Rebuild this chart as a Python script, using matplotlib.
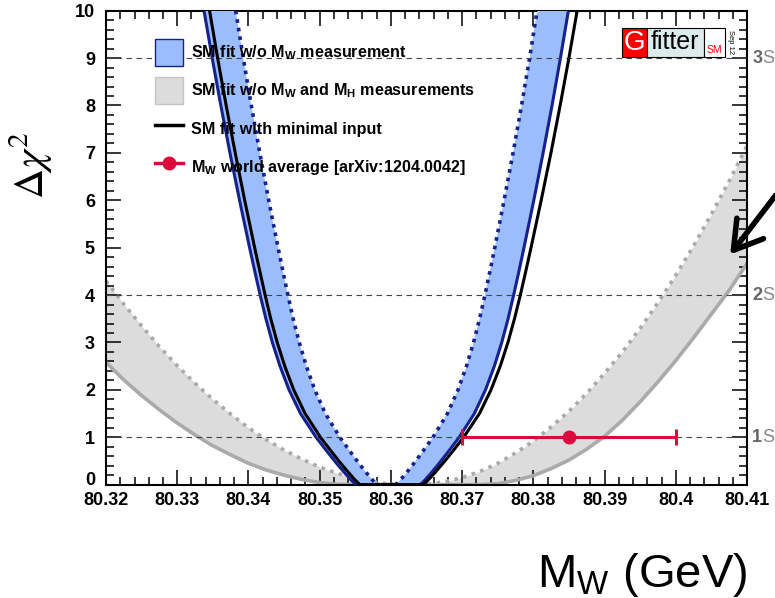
import numpy as np
import matplotlib.pyplot as plt
import matplotlib.transforms as mtransforms
from matplotlib.lines import Line2D
from matplotlib.patches import Patch, Rectangle

plt.rcParams['font.family'] = ['Liberation Sans', 'DejaVu Sans']
plt.rcParams['mathtext.fontset'] = 'custom'
plt.rcParams['mathtext.rm'] = 'Liberation Sans'
plt.rcParams['mathtext.bf'] = 'Liberation Sans:bold'
plt.rcParams['mathtext.it'] = 'Liberation Sans:italic'

# delta chi2 levels at which the MW profiles are tabulated (left / right branch)
levels = [10, 9, 8, 7, 6, 5, 4.5, 4, 3.5, 3, 2.5, 2, 1.5, 1, 0.7, 0.45, 0.25, 0.1, 0.03, 0]

# SM fit w/o MW: outer (solid) and inner (dotted) edge of the band
nomw_outer_left = [80.33376, 80.33491, 80.33612, 80.33740, 80.33875, 80.34016, 80.34089,
                   80.34164, 80.34245, 80.34336, 80.34443, 80.34570, 80.34731, 80.34949,
                   80.35104, 80.35237, 80.35350, 80.35440, 80.35487, 80.35511]
nomw_outer_right = [80.38492, 80.38380, 80.38262, 80.38137, 80.38006, 80.37868, 80.37797,
                    80.37723, 80.37645, 80.37556, 80.37452, 80.37328, 80.37171, 80.36958,
                    80.36807, 80.36677, 80.36567, 80.36479, 80.36433, 80.36410]
nomw_inner_left = [80.33821, 80.33927, 80.34040, 80.34159, 80.34284, 80.34416, 80.34484,
                   80.34554, 80.34628, 80.34713, 80.34813, 80.34931, 80.35080, 80.35284,
                   80.35427, 80.35551, 80.35656, 80.35740, 80.35784, 80.35806]
nomw_inner_right = [80.38053, 80.37947, 80.37834, 80.37715, 80.37589, 80.37458, 80.37390,
                    80.37320, 80.37245, 80.37160, 80.37061, 80.36942, 80.36793, 80.36590,
                    80.36447, 80.36322, 80.36218, 80.36133, 80.36090, 80.36067]

# SM fit with minimal input
minimal_left = [80.33454, 80.33567, 80.33687, 80.33814, 80.33947, 80.34087, 80.34160,
                80.34234, 80.34313, 80.34404, 80.34510, 80.34636, 80.34795, 80.35011,
                80.35164, 80.35296, 80.35408, 80.35497, 80.35544, 80.35567]
minimal_right = [80.38615, 80.38499, 80.38376, 80.38247, 80.38110, 80.37967, 80.37893,
                 80.37817, 80.37735, 80.37643, 80.37535, 80.37405, 80.37243, 80.37021,
                 80.36865, 80.36730, 80.36616, 80.36524, 80.36476, 80.36452]

# SM fit w/o MW and MH, sampled along MW
mw_grid = [80.3200, 80.3225, 80.3250, 80.3275, 80.3300, 80.3325, 80.3350, 80.3375,
           80.3400, 80.3425, 80.3450, 80.3475, 80.3500, 80.3525, 80.3550, 80.3575,
           80.3600, 80.3625, 80.3650, 80.3675, 80.3700, 80.3725, 80.3750, 80.3775,
           80.3800, 80.3825, 80.3850, 80.3875, 80.3900, 80.3925, 80.3950, 80.3975,
           80.4000, 80.4025, 80.4050, 80.4075, 80.4100]
nomwmh_upper = [4.30, 3.81, 3.35, 2.91, 2.51, 2.14, 1.80, 1.49, 1.20, 0.95, 0.73, 0.54,
                0.37, 0.24, 0.13, 0.06, 0.015, 0.0, 0.01, 0.06, 0.15, 0.28, 0.45, 0.67,
                0.92, 1.22, 1.55, 1.93, 2.35, 2.80, 3.30, 3.84, 4.42, 5.04, 5.71, 6.41, 7.15]
nomwmh_lower = [2.58, 2.21, 1.88, 1.58, 1.30, 1.05, 0.82, 0.63, 0.45, 0.31, 0.20, 0.11,
                0.044, 0.009, 0, 0, 0, 0, 0, 0, 0, 0, 0.02, 0.09,
                0.19, 0.34, 0.52, 0.75, 1.02, 1.36, 1.75, 2.17, 2.62, 3.10, 3.60, 4.10, 4.67]

# MW world average
mw_avg = 80.385
mw_err = 0.015

sigma_levels = [1, 4, 9]
sigma_names = ['1', '2', '3']
xticks = [80.32, 80.33, 80.34, 80.35, 80.36, 80.37, 80.38, 80.39, 80.40, 80.41]
xtick_labels = ['80.32', '80.33', '80.34', '80.35', '80.36', '80.37', '80.38',
                '80.39', '80.4', '80.41']
yticks = [0, 1, 2, 3, 4, 5, 6, 7, 8, 9, 10]

c_blue_fill = '#9bbdfb'
c_navy = '#15218c'
c_gray_fill = '#dcdcdc'
c_gray_line = '#aaaaaa'
c_red = '#dc0a3c'


def branch(left, right, lev):
    x = np.concatenate([left, right[::-1]])
    y = np.concatenate([lev, lev[::-1]])
    return x, y


fig = plt.figure(figsize=(7.75, 5.98), dpi=100)
ax = fig.add_axes([0.1368, 0.1895, 0.8271, 0.7926])

# grey band
ax.fill_between(mw_grid, nomwmh_lower, nomwmh_upper, color=c_gray_fill, lw=0, zorder=1)
ax.plot(mw_grid, nomwmh_lower, color=c_gray_line, lw=2.6, zorder=2)
ax.plot(mw_grid, nomwmh_upper, color=c_gray_line, lw=2.6, ls=(0, (1, 1.5)), zorder=2)

# blue band
lev = np.array(levels)
ox, oy = branch(np.array(nomw_outer_left), np.array(nomw_outer_right), lev)
ix, iy = branch(np.array(nomw_inner_left), np.array(nomw_inner_right), lev)
ax.fill(np.concatenate([ox, ix[::-1]]), np.concatenate([oy, iy[::-1]]),
        color=c_blue_fill, lw=0, zorder=3)
ax.plot(ox, oy, color=c_navy, lw=2.2, zorder=4)
ax.plot(ix, iy, color=c_navy, lw=2.6, ls=(0, (1, 1.4)), zorder=4)

# minimal input fit
mx, my = branch(np.array(minimal_left), np.array(minimal_right), lev)
ax.plot(mx, my, color='black', lw=2.2, zorder=5)

# sigma lines
blend = mtransforms.blended_transform_factory(ax.transAxes, ax.transData)
for lv, name in zip(sigma_levels, sigma_names):
    ax.axhline(lv, color='#444444', lw=0.8, ls=(0, (5, 4)), zorder=4.5)
    ax.text(1.008, lv, name, transform=blend, ha='left', va='center',
            fontsize=13, fontweight='bold', color='#666666', clip_on=False)
    ax.annotate('S', xy=(1.008, lv), xycoords=blend, xytext=(7.4, 0),
                textcoords='offset points', ha='left', va='center',
                fontsize=13, color='#888888', annotation_clip=False)

# world average
ax.errorbar([mw_avg], [1], xerr=[mw_err], fmt='o', color=c_red, ms=9, lw=2.2,
            capsize=6, capthick=2.2, zorder=6)

ax.set_xlim(80.32, 80.41)
ax.set_ylim(0, 10)
ax.set_xticks(xticks)
ax.set_xticklabels(xtick_labels)
ax.set_yticks(yticks)
ax.set_xticks(np.arange(80.32, 80.4101, 0.002), minor=True)
ax.set_yticks(np.arange(0, 10.01, 0.2), minor=True)
ax.tick_params(which='both', direction='in', top=True, right=True, width=1.1)
ax.tick_params(which='major', length=11)
ax.tick_params(which='minor', length=5.5)
ax.tick_params(axis='x', pad=5)
ax.tick_params(axis='y', pad=8)
for lab in ax.get_xticklabels() + ax.get_yticklabels():
    lab.set_fontsize(13)
    lab.set_fontweight('bold')
ax.get_yticklabels()[0].set_verticalalignment('baseline')
for sp in ax.spines.values():
    sp.set_linewidth(1.5)

# legend
handles = [
    Patch(facecolor=c_blue_fill, edgecolor=c_navy, lw=1),
    Patch(facecolor=c_gray_fill, edgecolor='#c4c4c4', lw=1),
    Line2D([], [], color='black', lw=2.5),
    Line2D([], [], color=c_red, lw=2.5, marker='o', ms=9),
]
labels = [
    r'SM fit w/o M$_{\mathbf{W}}$ measurement',
    r'SM fit w/o M$_{\mathbf{W}}$ and M$_{\mathbf{H}}$ measurements',
    'SM fit with minimal input',
    r'M$_{\mathbf{W}}$ world average [arXiv:1204.0042]',
]
ax.legend(handles, labels, loc='upper left', bbox_to_anchor=(155 / 775, 1 - 39 / 598),
          bbox_transform=fig.transFigure, frameon=False, borderpad=0, borderaxespad=0,
          handlelength=1.72, handleheight=2.23, handletextpad=0.5, labelspacing=0.67,
          prop={'family': 'Liberation Sans', 'weight': 'bold', 'size': 11.6})

# axis titles
fig.text(0.04, 0.724, r'$\Delta\chi^{2}$', rotation=90, ha='center', va='center',
         fontsize=30, math_fontfamily='stix')
fig.text(0.9639, 0.019, r'M$_{\mathrm{W}}$ (GeV)', ha='right', va='baseline', fontsize=34)

# Gfitter logo
for x0, w, fc in [(621.7, 25.0, '#ff0000'), (646.7, 57.3, '#dcecec'), (704.0, 21.0, 'white')]:
    fig.add_artist(Rectangle((x0 / 775, 1 - 56.7 / 598), w / 775, 28.4 / 598,
                             transform=fig.transFigure, facecolor=fc,
                             edgecolor='black', lw=0.8))
fig.text(634.2 / 775, 1 - 42.5 / 598, 'G', color='white', fontsize=20,
         ha='center', va='center')
fig.text(675.3 / 775, 1 - 42 / 598, 'fitter', color='black', fontsize=18,
         ha='center', va='center')
fig.text(714.5 / 775, 1 - 50 / 598, 'SM', color='#ff0000', fontsize=7.5,
         ha='center', va='center')
fig.text(730.5 / 775, 1 - 42 / 598, 'Sep 12', color='black', fontsize=5.5,
         rotation=270, ha='center', va='center')

# arrow into the grey band
ax.annotate('', xy=(80.4074, 4.81), xycoords='data', xytext=(1.003, 0.677),
            textcoords='figure fraction', annotation_clip=False,
            arrowprops=dict(arrowstyle='->,head_length=0.9,head_width=0.55',
                            lw=4, color='black', mutation_scale=22))

fig.savefig('out.png', dpi=100)
